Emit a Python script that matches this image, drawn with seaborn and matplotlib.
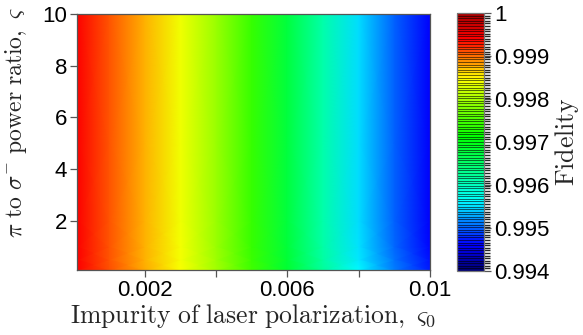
import numpy as np
import matplotlib
matplotlib.use("Agg")
import matplotlib.pyplot as plt
import seaborn as sns
from matplotlib.colors import LinearSegmentedColormap, Normalize, BoundaryNorm
from matplotlib.cm import ScalarMappable

# Impurity of laser polarization (x) and pi/sigma- power ratio (y)
impurity = [0.0001, 0.001, 0.002, 0.003, 0.004, 0.005, 0.006, 0.007, 0.008, 0.009, 0.01]
power_ratio = [0.1, 0.5, 1.0, 2.0, 5.0, 10.0]

# Fidelity, one row per power ratio
fid_r01 = [0.99941, 0.99911, 0.99879, 0.99846, 0.99800, 0.99746, 0.99682, 0.99621, 0.99560, 0.99512, 0.99472]
fid_r05 = [0.99940, 0.99910, 0.99878, 0.99844, 0.99798, 0.99743, 0.99679, 0.99617, 0.99554, 0.99506, 0.99466]
fid_r1 = [0.99940, 0.99910, 0.99877, 0.99843, 0.99796, 0.99741, 0.99677, 0.99614, 0.99551, 0.99503, 0.99463]
fid_r2 = [0.99940, 0.99910, 0.99877, 0.99842, 0.99795, 0.99740, 0.99675, 0.99612, 0.99548, 0.99500, 0.99460]
fid_r5 = [0.99940, 0.99910, 0.99877, 0.99842, 0.99795, 0.99740, 0.99675, 0.99612, 0.99548, 0.99500, 0.99460]
fid_r10 = [0.99940, 0.99910, 0.99877, 0.99842, 0.99795, 0.99740, 0.99675, 0.99612, 0.99548, 0.99500, 0.99460]

x_ticks = [0.002, 0.004, 0.006, 0.008, 0.01]
x_ticklabels = ["0.002", "", "0.006", "", "0.01"]
y_ticks = [2, 4, 6, 8, 10]
cb_ticks = [0.994, 0.995, 0.996, 0.997, 0.998, 0.999, 1.0]
cb_ticklabels = ["0.994", "0.995", "0.996", "0.997", "0.998", "0.999", "1"]

sns.set_theme(style="ticks")
plt.rcParams["font.family"] = ["Liberation Sans", "DejaVu Sans"]
plt.rcParams["mathtext.fontset"] = "cm"

fmin, fmax = 0.994, 1.0
cmap = LinearSegmentedColormap.from_list(
    "fid",
    [(0.00, (0.0, 0.0, 0.45)),
     (0.10, (0.0, 0.0, 1.0)),
     (0.27, (0.0, 1.0, 1.0)),
     (0.52, (0.0, 1.0, 0.0)),
     (0.75, (1.0, 1.0, 0.0)),
     (0.90, (1.0, 0.0, 0.0)),
     (1.00, (0.65, 0.0, 0.0))],
)

F = np.array([fid_r01, fid_r05, fid_r1, fid_r2, fid_r5, fid_r10])
X, Y = np.meshgrid(impurity, power_ratio)

fig = plt.figure(figsize=(5.83, 3.35), dpi=100)
ax = fig.add_axes([0.132, 0.194, 0.6055, 0.764])
ax.pcolormesh(X, Y, F, cmap=cmap, norm=Normalize(fmin, fmax), shading="gouraud",
              rasterized=True)
ax.set_xlim(impurity[0], impurity[-1])
ax.set_ylim(power_ratio[0], power_ratio[-1])
ax.set_xticks(x_ticks)
ax.set_xticklabels(x_ticklabels)
ax.set_yticks(y_ticks)
ax.set_yticklabels([str(v) for v in y_ticks])
ax.tick_params(labelsize=16, colors="#555555", labelcolor="black",
               length=5, width=0.9, pad=2)
for s in ax.spines.values():
    s.set_visible(True)
    s.set_color("#555555")
    s.set_linewidth(0.9)

ax.set_xlabel(r"$\mathrm{Impurity\ of\ laser\ polarization,}\ \varsigma_0$",
              fontsize=18.5, labelpad=1)
ax.set_ylabel(r"$\pi\ \mathrm{to}\ \sigma^{-}\ \mathrm{power\ ratio,}\ \varsigma$",
              fontsize=17)
ax.yaxis.set_label_coords(-0.135, 0.575)

# Colorbar drawn with discrete levels separated by thin lines
cax = fig.add_axes([0.784, 0.191, 0.0463, 0.770])
levels = np.linspace(fmin, fmax, 101)
sm = ScalarMappable(norm=BoundaryNorm(levels, 256), cmap=cmap)
cb = fig.colorbar(sm, cax=cax, boundaries=levels, drawedges=True)
cb.dividers.set_color("black")
cb.dividers.set_linewidth(0.45)
cb.dividers.set_alpha(0.9)
cb.outline.set_edgecolor("#777777")
cb.outline.set_linewidth(0.9)
cb.set_ticks(cb_ticks)
cb.set_ticklabels(cb_ticklabels)
cax.tick_params(labelsize=16, colors="#555555", labelcolor="black",
                length=5, width=0.9, pad=2)
cb.set_label(r"$\mathrm{Fidelity}$", fontsize=18.5, labelpad=3)

fig.savefig("out.png", dpi=100)
